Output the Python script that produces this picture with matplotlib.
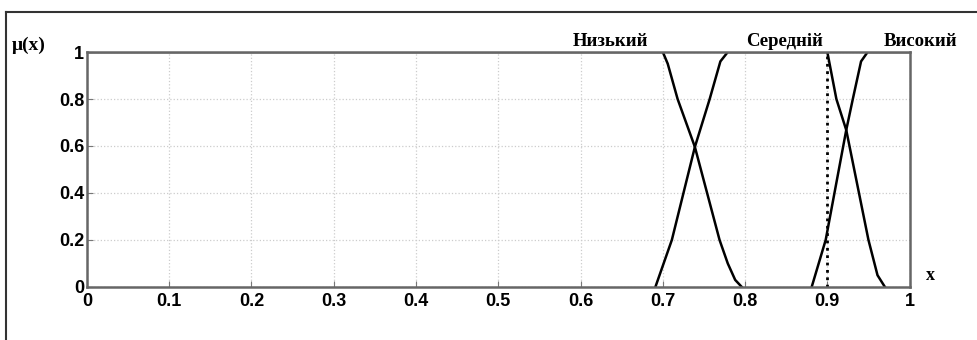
import matplotlib
matplotlib.use("Agg")
import matplotlib.pyplot as plt
from matplotlib.lines import Line2D

# membership functions
low_x = [0.0, 0.700, 0.706, 0.718, 0.739, 0.769, 0.779, 0.788, 0.796]
low_y = [1.0, 1.0, 0.95, 0.80, 0.596, 0.20, 0.10, 0.03, 0.0]

mid_x = [0.691, 0.711, 0.739, 0.757, 0.770, 0.779, 0.900, 0.911, 0.923, 0.950, 0.961, 0.970]
mid_y = [0.0, 0.20, 0.596, 0.80, 0.96, 1.0, 1.0, 0.80, 0.668, 0.20, 0.05, 0.0]

high_x = [0.881, 0.898, 0.923, 0.931, 0.941, 0.949, 1.0]
high_y = [0.0, 0.20, 0.668, 0.80, 0.96, 1.0, 1.0]

term_names = ["Низький", "Середній", "Високий"]
term_pos = [0.636, 0.848, 1.013]

x_ticks = [0, 0.1, 0.2, 0.3, 0.4, 0.5, 0.6, 0.7, 0.8, 0.9, 1]
y_ticks = [0, 0.2, 0.4, 0.6, 0.8, 1]
x_tick_labels = ["0", "0.1", "0.2", "0.3", "0.4", "0.5", "0.6", "0.7", "0.8", "0.9", "1"]
y_tick_labels = ["0", "0.2", "0.4", "0.6", "0.8", "1"]
marker_x = 0.9

fig = plt.figure(figsize=(9.77, 3.4), dpi=100)
ax = fig.add_axes([0.089, 0.156, 0.842, 0.691])

for xs, ys in [(low_x, low_y), (mid_x, mid_y), (high_x, high_y)]:
    ax.plot(xs, ys, color="black", linewidth=1.8)
ax.plot([marker_x, marker_x], [0, 1], color="black", linestyle=":", linewidth=2.0)

ax.set_xlim(0, 1)
ax.set_ylim(0, 1)
ax.set_xticks(x_ticks)
ax.set_yticks(y_ticks)
ax.set_xticklabels(x_tick_labels, fontfamily="Liberation Sans", fontweight="bold", fontsize=13)
ax.set_yticklabels(y_tick_labels, fontfamily="Liberation Sans", fontweight="bold", fontsize=13)
ax.tick_params(direction="in", length=4, color="#777777")
ax.tick_params(axis="x", pad=4)
ax.tick_params(axis="y", pad=2)
ax.grid(True, color="#cccccc", linestyle=":", linewidth=0.9)
for sp in ax.spines.values():
    sp.set_color("#666666")
    sp.set_linewidth(1.8)

for name, pos in zip(term_names, term_pos):
    ax.text(pos, 1.01, name, ha="center", va="bottom", fontfamily="Liberation Serif",
            fontweight="bold", fontsize=13.5, clip_on=False)

ax.text(-0.05, 0.99, "μ(x)", ha="right", va="bottom", fontfamily="Liberation Serif",
        fontweight="bold", fontsize=14, transform=ax.transAxes)
ax.text(1.025, 0.05, "x", ha="center", va="center", fontfamily="Liberation Serif",
        fontweight="bold", fontsize=13, transform=ax.transAxes)

# outer frame of the original figure
fig.add_artist(Line2D([6 / 977, 1.0], [1 - 12 / 340, 1 - 12 / 340], color="#333333", linewidth=1.5))
fig.add_artist(Line2D([6 / 977, 6 / 977], [0.0, 1 - 12 / 340], color="#333333", linewidth=1.5))

fig.savefig("out.png", dpi=100)
